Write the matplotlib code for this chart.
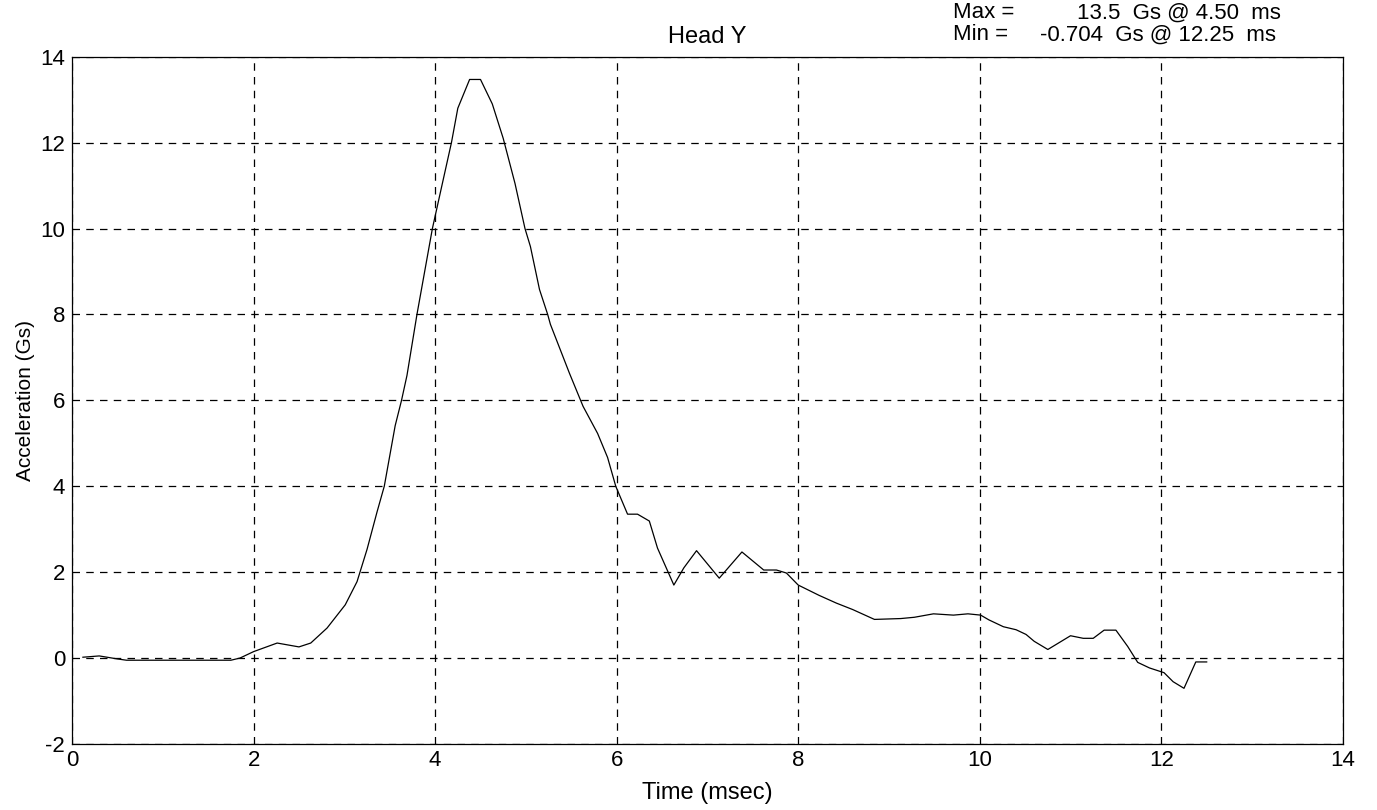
import matplotlib.pyplot as plt

plt.rcParams['font.family'] = ['Liberation Sans', 'DejaVu Sans']

# Head Y acceleration trace
time_ms = [0.12, 0.3, 0.5, 0.6, 1.0, 1.5, 1.75, 1.85, 2.0, 2.26, 2.5, 2.63,
           2.81, 3.01, 3.14, 3.25, 3.36, 3.44, 3.56, 3.63, 3.69, 3.8, 3.97,
           4.08, 4.18, 4.25, 4.38, 4.5, 4.63, 4.75, 4.88, 4.99, 5.05, 5.15,
           5.24, 5.27, 5.48, 5.63, 5.79, 5.9, 5.99, 6.12, 6.23, 6.36, 6.45,
           6.63, 6.74, 6.88, 7.13, 7.38, 7.62, 7.76, 7.87, 8.0, 8.23, 8.42,
           8.6, 8.84, 9.13, 9.28, 9.49, 9.71, 9.87, 10.01, 10.1, 10.26, 10.4,
           10.51, 10.6, 10.75, 11.0, 11.14, 11.25, 11.37, 11.5, 11.63, 11.74,
           11.87, 12.03, 12.13, 12.25, 12.38, 12.5]
accel_g = [0.02, 0.05, -0.02, -0.05, -0.05, -0.05, -0.05, 0.0, 0.15, 0.35, 0.26,
           0.35, 0.7, 1.24, 1.78, 2.53, 3.4, 4.0, 5.41, 6.0, 6.58, 8.0, 10.0,
           11.05, 12.0, 12.8, 13.47, 13.47, 12.9, 12.1, 11.05, 10.0, 9.58, 8.58,
           8.0, 7.77, 6.63, 5.86, 5.23, 4.67, 4.0, 3.35, 3.35, 3.19, 2.56,
           1.7, 2.1, 2.5, 1.86, 2.47, 2.05, 2.05, 1.98, 1.7, 1.46, 1.28,
           1.13, 0.9, 0.92, 0.95, 1.03, 1.0, 1.03, 1.0, 0.89, 0.73, 0.66,
           0.55, 0.39, 0.2, 0.52, 0.46, 0.46, 0.65, 0.65, 0.27, -0.1,
           -0.23, -0.34, -0.55, -0.704, -0.09, -0.09]

x_ticks = [0, 2, 4, 6, 8, 10, 12, 14]
y_ticks = [-2, 0, 2, 4, 6, 8, 10, 12, 14]
y_tick_labels = ['-2', '0', '2', '4', '6', '8', '10', '12', '14']

fig = plt.figure(figsize=(13.77, 8.1), dpi=100)
ax = fig.add_axes([0.0523, 0.0815, 0.9229, 0.8485])

ax.plot(time_ms, accel_g, color='black', linewidth=0.9)

ax.set_xlim(0, 14)
ax.set_ylim(-2, 14)
ax.set_xticks(x_ticks)
ax.set_yticks(y_ticks)
ax.set_yticklabels(y_tick_labels)
ax.tick_params(labelsize=16, length=0)
ax.tick_params(axis='x', pad=4)
ax.tick_params(axis='y', pad=5)
ax.grid(True, color='black', linestyle=(0, (6, 5)), linewidth=0.9)
for s in ax.spines.values():
    s.set_color('black')
    s.set_linewidth(0.9)

ax.set_xlabel('Time (msec)', fontsize=17, labelpad=8)
ax.set_ylabel('Acceleration (Gs)', fontsize=15, labelpad=4)
ax.set_title('Head Y', fontsize=17, pad=10)

fig.text(953 / 1377, 1 - 13 / 810, 'Max =', fontsize=16, va='center')
fig.text(953 / 1377, 1 - 35 / 810, 'Min =', fontsize=16, va='center')
fig.text(1077 / 1377, 1 - 13 / 810, '13.5  Gs @ 4.50  ms', fontsize=16, va='center')
fig.text(1040 / 1377, 1 - 35 / 810, '-0.704  Gs @ 12.25  ms', fontsize=16, va='center')

plt.savefig('out.png', dpi=100)
